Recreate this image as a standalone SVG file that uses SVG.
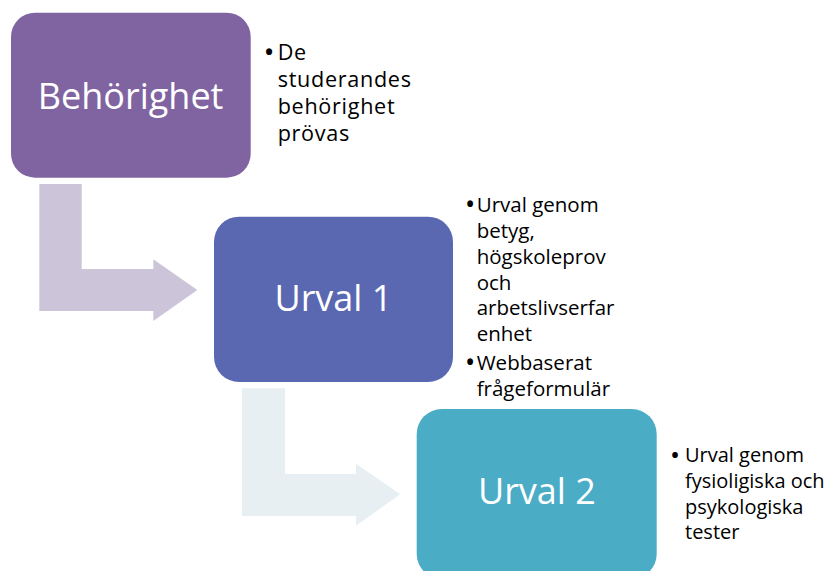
<svg xmlns="http://www.w3.org/2000/svg" width="829" height="571" viewBox="0 0 829 571">
  <style>
    .box-label { font-family: "Open Sans", "Liberation Sans", sans-serif; font-size: 36px; fill: #ffffff; text-anchor: middle; }
    .side { font-family: "Open Sans", "Liberation Sans", sans-serif; fill: #000000; }
    .s1 { font-size: 21.6px; letter-spacing: 0.7px; }
    .s2 { font-size: 20.5px; }
    .s3 { font-size: 20px; }
    .bul { text-anchor: middle; font-weight: bold; letter-spacing: 0; }
  </style>
  <rect width="829" height="571" fill="#ffffff"/>
  <g id="connectors">
    <polygon points="39.3,184 81.7,184 81.7,269 153.3,269 153.3,259.3 197.3,290 153.3,321 153.3,311 39.3,311" fill="#CCC5D9"/>
    <polygon points="242,388.3 285,388.3 285,474 356,474 356,463.7 400.3,494.3 356,525.7 356,516 242,516" fill="#E8EFF3"/>
  </g>
  <g id="node-behorighet">
    <rect x="11" y="12.7" width="239.7" height="165" rx="24" fill="#8064A2"/>
    <text class="box-label" x="130.6" y="109">Behörighet</text>
    <g class="side s1">
      <text class="bul" x="269" y="59.8">•</text>
      <text x="277.7" y="59.8">De<tspan x="277.7" y="87">studerandes</tspan><tspan x="277.7" y="114.2">behörighet</tspan><tspan x="277.7" y="141.4">prövas</tspan></text>
    </g>
  </g>
  <g id="node-urval1">
    <rect x="214" y="216.7" width="239" height="165.3" rx="25" fill="#5A68B1"/>
    <text class="box-label" x="333.4" y="311">Urval 1</text>
    <g class="side s2">
      <text class="bul" x="470" y="212.3">•</text>
      <text x="476.7" y="212.3">Urval genom<tspan x="476.7" y="238.3">betyg,</tspan><tspan x="476.7" y="264">högskoleprov</tspan><tspan x="476.7" y="289.5">och</tspan><tspan x="476.7" y="315">arbetslivserfar</tspan><tspan x="476.7" y="340.7">enhet</tspan></text>
      <text class="bul" x="470" y="370">•</text>
      <text x="476.7" y="370">Webbaserat<tspan x="476.7" y="396">frågeformulär</tspan></text>
    </g>
  </g>
  <g id="node-urval2">
    <rect x="416.7" y="409" width="240" height="170" rx="25" fill="#4BACC6"/>
    <text class="box-label" x="536.9" y="504.3">Urval 2</text>
    <g class="side s3">
      <text class="bul" x="675" y="462.3">•</text>
      <text x="685" y="462.3">Urval genom<tspan x="685" y="488">fysioligiska och</tspan><tspan x="685" y="513.5">psykologiska</tspan><tspan x="685" y="538.5">tester</tspan></text>
    </g>
  </g>
</svg>
